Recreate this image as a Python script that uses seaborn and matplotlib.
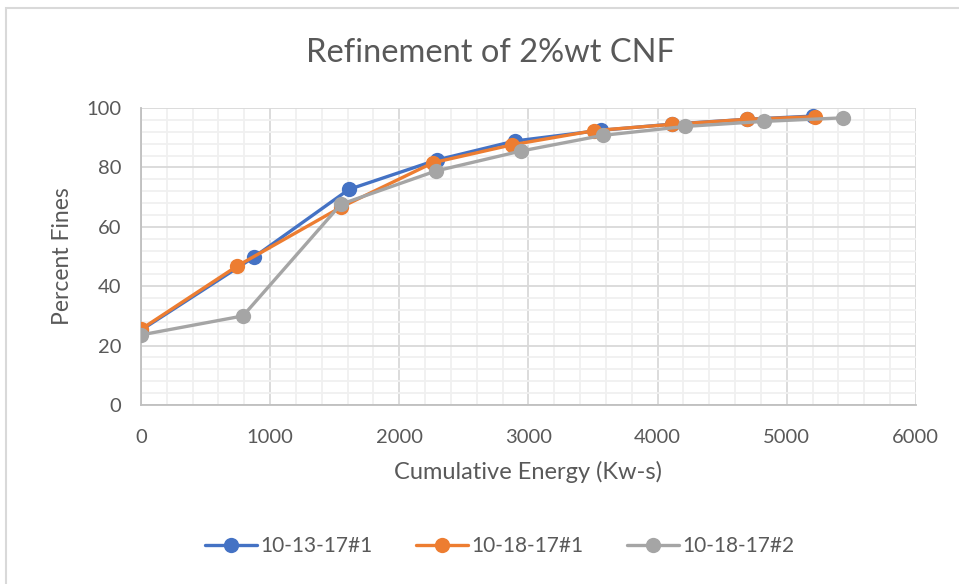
import matplotlib
matplotlib.use("Agg")
import matplotlib.pyplot as plt
from matplotlib.ticker import MultipleLocator
from matplotlib.patches import Rectangle
from matplotlib.lines import Line2D
import seaborn as sns
import pandas as pd

series_names = ["10-13-17#1", "10-18-17#1", "10-18-17#2"]
energy_a = [0, 875, 1610, 2290, 2895, 3560, 4115, 4690, 5205]
fines_a = [25.2, 49.8, 72.6, 82.5, 88.9, 92.5, 94.6, 96.2, 97.3]
energy_b = [0, 745, 1548, 2262, 2871, 3510, 4110, 4692, 5220]
fines_b = [25.5, 46.8, 66.6, 81.6, 87.6, 92.4, 94.5, 96.2, 97.1]
energy_c = [0, 790, 1548, 2283, 2940, 3576, 4212, 4822, 5433]
fines_c = [23.6, 30.0, 67.6, 78.8, 85.5, 90.8, 93.8, 95.5, 96.7]
colors = ["#4472C4", "#ED7D31", "#A5A5A5"]

rows = []
for name, xs, ys in zip(series_names, [energy_a, energy_b, energy_c], [fines_a, fines_b, fines_c]):
    for i, (x, y) in enumerate(zip(xs, ys)):
        rows.append({"series": name, "energy": x, "fines": y, "order": i})
df = pd.DataFrame(rows)

sns.set_style("white")
plt.rcParams["font.family"] = ["Lato", "DejaVu Sans"]

fig = plt.figure(figsize=(9.59, 5.84), dpi=100)
ax = fig.add_axes([0.147, 0.3065, 0.808, 0.5085])

sns.lineplot(data=df, x="energy", y="fines", hue="series", hue_order=series_names,
             palette=colors, sort=False, marker="o", markersize=11,
             markeredgewidth=0, linewidth=2.4, ax=ax, legend=False, zorder=3)

ax.set_xlim(0, 6000)
ax.set_ylim(0, 100)
ax.xaxis.set_major_locator(MultipleLocator(1000))
ax.xaxis.set_minor_locator(MultipleLocator(200))
ax.yaxis.set_major_locator(MultipleLocator(20))
ax.yaxis.set_minor_locator(MultipleLocator(4))
ax.grid(which="major", color="#D9D9D9", linewidth=1.3, zorder=0)
ax.grid(which="minor", color="#F0F0F0", linewidth=1.3, zorder=0)
ax.set_axisbelow(True)
for s in ["top", "right"]:
    ax.spines[s].set_visible(False)
for s in ["left", "bottom"]:
    ax.spines[s].set_color("#BFBFBF")
    ax.spines[s].set_linewidth(1.3)
ax.tick_params(axis="x", which="major", direction="out", length=6, width=1.3, color="#BFBFBF",
               labelsize=14.5, labelcolor="#595959", pad=11)
ax.tick_params(axis="y", which="major", direction="out", length=6, width=1.3, color="#BFBFBF",
               labelsize=14.5, labelcolor="#595959", pad=8)
ax.tick_params(which="minor", length=0)

ax.set_xlabel("Cumulative Energy (Kw-s)", fontsize=17, color="#595959", labelpad=11)
ax.set_ylabel("Percent Fines", fontsize=16.5, color="#595959", labelpad=10)
fig.text(0.511, 0.91, "Refinement of 2%wt CNF", ha="center", va="center",
         fontsize=23.5, color="#595959")

handles = [Line2D([0], [0], color=c, lw=2.4, marker="o", markersize=11, markeredgewidth=0)
           for c in colors]
fig.legend(handles, series_names, loc="center", bbox_to_anchor=(0.521, 0.065), ncol=3,
           frameon=False, fontsize=15, labelcolor="#595959", handlelength=2.5,
           handletextpad=0.15, columnspacing=2.1)

fig.patches.append(Rectangle((0.006, -0.01), 1.2, 0.996, transform=fig.transFigure,
                             fill=False, edgecolor="#D9D9D9", linewidth=1.5))

fig.savefig("out.png", dpi=100)
